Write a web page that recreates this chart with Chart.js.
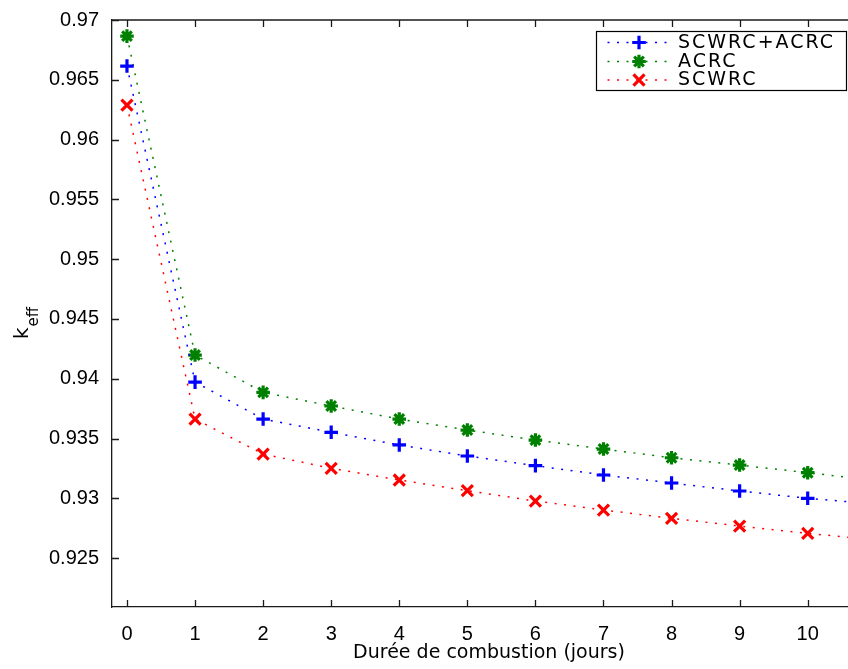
<!DOCTYPE html>
<html lang="fr">
<head>
<meta charset="UTF-8">
<title>k_eff en fonction de la durée de combustion</title>
<script src="https://cdn.jsdelivr.net/npm/chart.js"></script>
<style>
  body { margin: 0; background: #fff; }
  canvas { display: block; }
</style>
</head>
<body>
<canvas id="keffChart" width="848" height="669"></canvas>
<script>
// Durée de combustion (jours) et k_eff des trois configurations
const jours = [0, 1, 2, 3, 4, 5, 6, 7, 8, 9, 10, 11];
const keffMixte = [0.96615, 0.93972, 0.93663, 0.93552, 0.93446, 0.93354, 0.93273, 0.93195, 0.93128, 0.93061, 0.93000, 0.92952];
const keffACRC  = [0.96865, 0.94198, 0.93886, 0.93772, 0.93663, 0.93571, 0.93487, 0.93412, 0.93339, 0.93278, 0.93214, 0.93149];
const keffSCWRC = [0.96288, 0.93663, 0.93370, 0.93251, 0.93153, 0.93064, 0.92977, 0.92902, 0.92833, 0.92768, 0.92707, 0.92651];
const seriesNames = ['SCWRC+ACRC', 'ACRC', 'SCWRC'];

const BLUE = '#0000ff', GREEN = '#008000', RED = '#ff0000';
const DASH = [2, 7.5];

function serie(label, values, color, style, radius) {
    return {
        label: label,
        data: jours.map((j, i) => ({ x: j, y: values[i] })),
        borderColor: color,
        backgroundColor: color,
        borderWidth: 1.5,
        borderDash: DASH,
        pointStyle: style,
        pointRadius: radius,
        pointBorderWidth: 3.2,
        pointBorderColor: color,
        tension: 0,
        fill: false
    };
}

// ticks vers l'intérieur, cadre du haut, label k_eff, titre de l'axe x et légende
const cadrePlugin = {
    id: 'cadre',
    afterDraw(chart) {
        const ctx = chart.ctx;
        const area = chart.chartArea;
        const xs = chart.scales.x, ys = chart.scales.y;
        const L = 7;
        ctx.save();
        ctx.strokeStyle = '#1a1a1a';
        ctx.lineWidth = 1.3;
        ctx.beginPath();
        ctx.moveTo(area.left, area.top);
        ctx.lineTo(area.right, area.top);
        ys.ticks.forEach(t => {
            const y = Math.round(ys.getPixelForValue(t.value)) + 0.5;
            ctx.moveTo(area.left, y);
            ctx.lineTo(area.left + L, y);
        });
        xs.ticks.forEach(t => {
            const x = Math.round(xs.getPixelForValue(t.value)) + 0.5;
            ctx.moveTo(x, area.bottom);
            ctx.lineTo(x, area.bottom - L);
            ctx.moveTo(x, area.top);
            ctx.lineTo(x, area.top + L);
        });
        ctx.stroke();

        // k_eff
        ctx.fillStyle = '#000';
        ctx.save();
        ctx.translate(28, 339);
        ctx.rotate(-Math.PI / 2);
        ctx.textBaseline = 'alphabetic';
        ctx.font = '20px "DejaVu Sans"';
        ctx.fillText('k', 0, 0);
        const kw = ctx.measureText('k').width;
        ctx.font = '15px "DejaVu Sans"';
        ctx.fillText('eff', kw + 1, 10);
        ctx.restore();

        // Durée de combustion (jours)
        ctx.font = '19px "DejaVu Sans"';
        ctx.textAlign = 'center';
        ctx.textBaseline = 'alphabetic';
        ctx.fillText('Durée de combustion (jours)', 489, 658);

        // légende
        const bx = 596.5, by = 31.5, bw = 250, bh = 59;
        ctx.fillStyle = '#fff';
        ctx.fillRect(bx, by, bw, bh);
        ctx.strokeStyle = '#000';
        ctx.lineWidth = 1.2;
        ctx.strokeRect(bx, by, bw, bh);
        const rowsY = [42.5, 61.5, 80];
        chart.data.datasets.forEach((ds, i) => {
            const y = rowsY[i];
            ctx.save();
            ctx.strokeStyle = ds.borderColor;
            ctx.lineWidth = 1.5;
            ctx.setLineDash(DASH);
            ctx.beginPath();
            ctx.moveTo(607.5, y);
            ctx.lineTo(669, y);
            ctx.stroke();
            ctx.restore();
            ctx.strokeStyle = ds.borderColor;
            ctx.fillStyle = ds.borderColor;
            ctx.lineWidth = 3.2;
            Chart.helpers.drawPoint(ctx, {
                pointStyle: ds.pointStyle,
                radius: ds.pointRadius,
                rotation: 0,
                borderWidth: 3.2
            }, 639, y);
            ctx.fillStyle = '#000';
            ctx.font = '19px "DejaVu Sans"';
            ctx.textAlign = 'left';
            ctx.textBaseline = 'middle';
            ctx.letterSpacing = '2px';
            ctx.fillText(seriesNames[i], 678, y + 0.5);
            ctx.letterSpacing = '0px';
        });
        ctx.restore();
    }
};

const tickFont = { family: '"Liberation Sans", Arial, sans-serif', size: 20 };

new Chart(document.getElementById('keffChart'), {
    type: 'line',
    data: {
        datasets: [
            serie(seriesNames[0], keffMixte, BLUE, 'cross', 6.8),
            serie(seriesNames[1], keffACRC, GREEN, 'star', 6.8),
            serie(seriesNames[2], keffSCWRC, RED, 'crossRot', 7.8)
        ]
    },
    options: {
        responsive: false,
        animation: false,
        events: [],
        layout: { autoPadding: false, padding: { left: 0, right: 0, top: 20, bottom: 0 } },
        plugins: {
            legend: { display: false },
            tooltip: { enabled: false }
        },
        scales: {
            x: {
                type: 'linear',
                min: -0.22,
                max: 10.592,
                grid: { display: false },
                border: { display: true, color: '#1a1a1a', width: 1.3 },
                ticks: {
                    stepSize: 1,
                    includeBounds: false,
                    autoSkip: false,
                    maxRotation: 0,
                    color: '#000',
                    font: tickFont,
                    padding: 7
                },
                afterFit(scale) {
                    scale.height = 62;
                    scale.paddingLeft = 0;
                    scale.paddingRight = 0;
                }
            },
            y: {
                type: 'linear',
                min: 0.92091,
                max: 0.97,
                grid: { display: false },
                border: { display: true, color: '#1a1a1a', width: 1.3 },
                ticks: {
                    stepSize: 0.005,
                    includeBounds: false,
                    autoSkip: false,
                    color: '#000',
                    font: tickFont,
                    padding: 5,
                    callback: v => String(parseFloat(v.toFixed(3)))
                },
                afterFit(scale) { scale.width = 112; }
            }
        }
    },
    plugins: [cadrePlugin]
});
</script>
</body>
</html>
